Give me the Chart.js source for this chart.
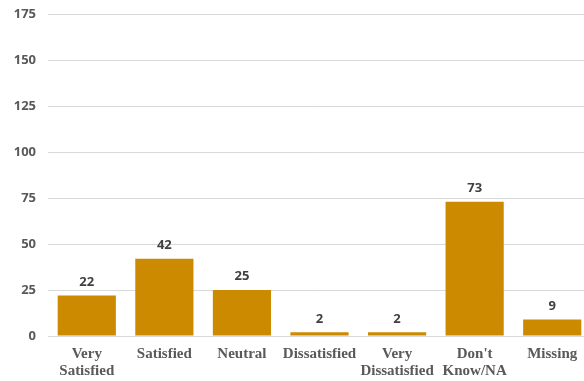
<!DOCTYPE html>
<html>
<head>
<meta charset="utf-8">
<script src="https://cdn.jsdelivr.net/npm/chart.js@4.4.0/dist/chart.umd.min.js"></script>
<style>
  html, body { margin: 0; padding: 0; background: #fff; overflow: hidden; }
  /* la zone de tracé dépasse un peu à droite, comme sur la capture */
  #wrap { width: 591px; height: 381px; }
</style>
</head>
<body>
<div id="wrap"><canvas id="c"></canvas></div>
<script>
const categories = [['Very', 'Satisfied'], 'Satisfied', 'Neutral', 'Dissatisfied', ['Very', 'Dissatisfied'], ["Don't", 'Know/NA'], 'Missing'];
const counts = [22, 42, 25, 2, 2, 73, 9];
const yTicks = [0, 25, 50, 75, 100, 125, 150, 175];

// Petit plugin pour écrire la valeur au-dessus de chaque barre
const valueLabels = {
    id: 'valueLabels',
    afterDatasetsDraw(chart) {
        const ctx = chart.ctx;
        const meta = chart.getDatasetMeta(0);
        ctx.save();
        ctx.font = 'bold 13px "Open Sans", sans-serif';
        ctx.fillStyle = '#404040';
        ctx.textAlign = 'center';
        ctx.textBaseline = 'bottom';
        meta.data.forEach((bar, i) => {
            ctx.fillText(String(counts[i]), bar.x, bar.y - 7);
        });
        ctx.restore();
    }
};

new Chart(document.getElementById('c'), {
    type: 'bar',
    data: {
        labels: categories,
        datasets: [{
            data: counts,
            backgroundColor: '#CC8A00',
            borderWidth: 0,
            categoryPercentage: 1,
            barPercentage: 0.75
        }]
    },
    options: {
        responsive: true,
        maintainAspectRatio: false,
        animation: false,
        layout: { padding: { top: 14, right: 0, left: 0, bottom: 0 } },
        plugins: {
            legend: { display: false },
            tooltip: { enabled: false }
        },
        scales: {
            x: {
                grid: { display: false, drawTicks: false },
                border: { display: false },
                ticks: {
                    color: '#595959',
                    font: { family: '"Liberation Serif", serif', size: 15, weight: 'bold', lineHeight: 1.1 },
                    padding: 10,
                    maxRotation: 0,
                    autoSkip: false
                },
                afterFit: (scale) => {
                    scale.height = 45;
                    scale.paddingLeft = 0;
                    scale.paddingRight = 0;
                }
            },
            y: {
                min: 0,
                max: 175,
                afterBuildTicks: (scale) => { scale.ticks = yTicks.map(v => ({ value: v })); },
                grid: { color: '#D9D9D9', lineWidth: 1, drawTicks: false },
                border: { display: false },
                ticks: {
                    color: '#595959',
                    font: { family: '"Open Sans", sans-serif', size: 13, weight: 'bold' },
                    padding: 12
                },
                afterFit: (scale) => {
                    scale.width = 48;
                    scale.paddingTop = 0;
                    scale.paddingBottom = 0;
                }
            }
        }
    },
    plugins: [valueLabels]
});
</script>
</body>
</html>
